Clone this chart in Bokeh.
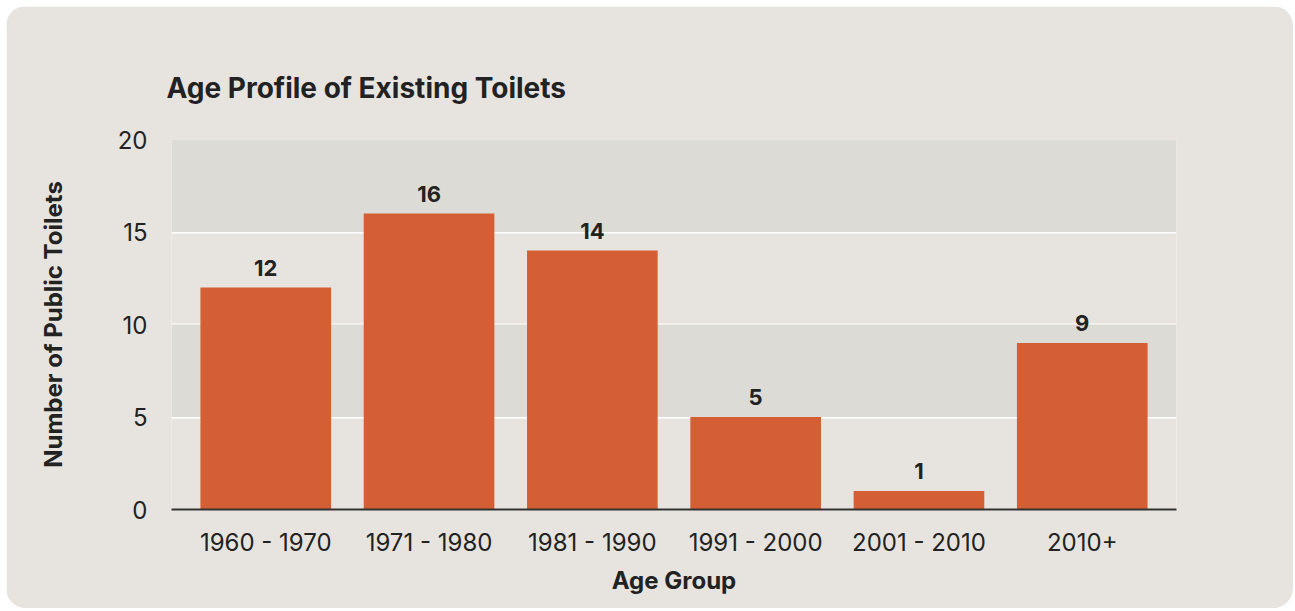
from bokeh.plotting import figure
from bokeh.models import ColumnDataSource, BoxAnnotation, LabelSet, FactorRange
from bokeh.core.properties import value
from bokeh.embed import file_html
from bokeh.resources import INLINE

categories = ["1960 - 1970", "1971 - 1980", "1981 - 1990", "1991 - 2000", "2001 - 2010", "2010+"]
counts = [12, 16, 14, 5, 1, 9]
y_ticks = [0, 5, 10, 15, 20]

CARD = "#e7e4df"
BAND = "#dcdbd6"
BAR = "#d45f35"
TXT = "#222222"
FONT = "Inter"

src = ColumnDataSource(dict(cat=categories, val=counts, lab=[str(v) for v in counts]))

p = figure(
    x_range=FactorRange(*categories, range_padding=0.0257, range_padding_units="percent"),
    y_range=(0, 20),
    width=1287, height=602,
    output_backend="svg", toolbar_location=None,
    min_border_left=165, min_border_right=117, min_border_top=133, min_border_bottom=99,
    background_fill_color=CARD, border_fill_color=CARD,
    outline_line_color=None,
    styles={"border-radius": "20px", "overflow": "hidden", "margin": "6px 0px 0px 6px"},
)

p.add_layout(BoxAnnotation(bottom=15, top=20, fill_color=BAND, fill_alpha=1, line_color=None, level="underlay"))
p.add_layout(BoxAnnotation(bottom=5, top=10, fill_color=BAND, fill_alpha=1, line_color=None, level="underlay"))

p.vbar(x="cat", top="val", width=0.8, source=src, fill_color=BAR, line_color=None)

labels = LabelSet(x="cat", y="val", text="lab", source=src, y_offset=12,
                  text_align="center", text_baseline="bottom",
                  text_font=value(FONT), text_font_size="22px", text_font_style="bold",
                  text_color=TXT)
p.add_layout(labels)

p.title.text = "Age Profile of Existing Toilets"
p.title.text_font = FONT
p.title.text_font_size = "28px"
p.title.text_font_style = "bold"
p.title.text_color = TXT
p.title.align = "left"
p.title.offset = -5
p.title.standoff = 70

p.xgrid.grid_line_color = None
p.ygrid.ticker = [5, 10, 15, 20]
p.ygrid.grid_line_color = "white"
p.ygrid.grid_line_width = 2
p.ygrid.level = "underlay"

p.yaxis.ticker = y_ticks
p.yaxis.axis_line_color = None
p.yaxis.major_tick_line_color = None
p.yaxis.minor_tick_line_color = None
p.yaxis.major_tick_out = 0
p.yaxis.major_tick_in = 0
p.yaxis.major_label_text_font = FONT
p.yaxis.major_label_text_font_size = "24px"
p.yaxis.major_label_text_color = TXT
p.yaxis.major_label_standoff = 24
p.yaxis.axis_label = "Number of Public Toilets"
p.yaxis.axis_label_text_font = FONT
p.yaxis.axis_label_text_font_size = "24px"
p.yaxis.axis_label_text_font_style = "bold"
p.yaxis.axis_label_text_color = TXT
p.yaxis.axis_label_standoff = 47

p.xaxis.axis_line_color = "#333333"
p.xaxis.axis_line_width = 2
p.xaxis.major_tick_line_color = None
p.xaxis.minor_tick_line_color = None
p.xaxis.major_tick_out = 0
p.xaxis.major_tick_in = 0
p.xaxis.major_label_text_font = FONT
p.xaxis.major_label_text_font_size = "24px"
p.xaxis.major_label_text_color = TXT
p.xaxis.major_label_standoff = 18
p.xaxis.axis_label = "Age Group"
p.xaxis.axis_label_text_font = FONT
p.xaxis.axis_label_text_font_size = "24px"
p.xaxis.axis_label_text_font_style = "bold"
p.xaxis.axis_label_text_color = TXT
p.xaxis.axis_label_standoff = 6

open("out.html", "w").write(file_html(p, INLINE))
